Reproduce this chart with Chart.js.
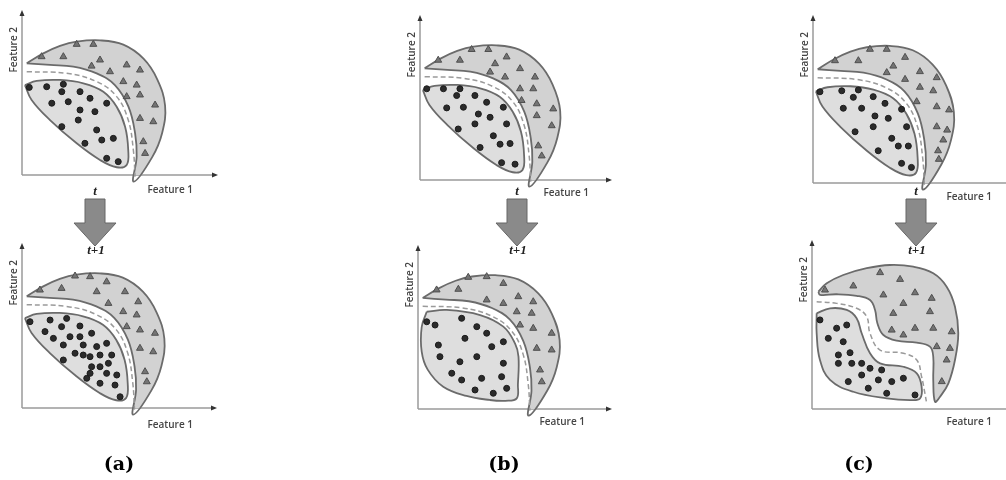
<!DOCTYPE html>
<html>
<head>
<meta charset="utf-8">
<script src="https://cdn.jsdelivr.net/npm/chart.js@4.4.1/dist/chart.umd.min.js"></script>
<style>
  body { margin: 0; width: 1006px; height: 480px; background: #fff; position: relative; overflow: hidden; }
  canvas { position: absolute; }
  .lbl { position: absolute; transform: translate(-50%, -50%); white-space: nowrap; }
  .t { font: italic bold 13px "Liberation Serif", serif; color: #222; }
  .cap { font: bold 19px "DejaVu Serif", serif; color: #000; }
  svg { position: absolute; left: 0; top: 0; }
</style>
</head>
<body>
<canvas id="aTop"></canvas>
<canvas id="aBottom"></canvas>
<canvas id="bTop"></canvas>
<canvas id="bBottom"></canvas>
<canvas id="cTop"></canvas>
<canvas id="cBottom"></canvas>
<svg width="1006" height="480" id="arrows"></svg>
<script>
// axis titles and captions
const xTitle = 'Feature 1';
const yTitle = 'Feature 2';
const stepBefore = 't';
const stepAfter = 't+1';
const captions = ['(a)', '(b)', '(c)'];

// class regions, in axis units (0..100 on both axes)
const crescent = [[2.4,67.7],[10.9,73.7],[19.4,78.2],[27.9,80.8],[39.8,81.6],[51.7,79],[62,70.5],[69,58],[73,42],[71.5,25.5],[66.5,11],[57,-4],
  [58.5,11.1],[57.7,25.3],[54.3,41.4],[47.4,54.5],[38.1,61.6],[26.2,65.7],[14.3,66.7],[2.4,67.7]];
const lens = [[1.5,54.5],[7.5,57],[19.4,57.6],[31.3,55.6],[41.5,50.5],[48.3,41.4],[52.6,29.3],[54.2,15.2],[53.4,6.1],[48.3,4.7],
  [39.8,9.1],[27.9,19.2],[14.3,33.3],[4.9,45.5],[1.5,54.5]];
const boundary = [[2.4,62.6],[22.8,61.6],[38.1,56.6],[48.3,47.5],[54.2,33.3],[56.8,15.2],[57.7,-1]];
const lensWide = [[4.5,59.3],[14.8,60.4],[32,57.3],[44,50.2],[50,40],[51.8,31.9],[51.5,15],[50.9,6.5],[45,5],[37,5.5],[25,8],
  [13,13.6],[5,24],[1.9,35],[1.9,50],[4.5,59.3]];
const sUpper = [[3.3,69.4],[7.6,74.4],[16.1,79.3],[28.2,83.3],[40.2,85.2],[52.2,84.2],[62.5,80.3],[69.4,72.4],[73.7,60.5],[75.4,44.8],
  [73.7,29],[70.3,15.2],[66,7.3],[63.4,4.3],[62.5,17.2],[62.5,30.9],[60.8,36.9],[54,39.3],[43.7,40.4],[36.8,43.8],[33.7,50.7],
  [32.5,58.6],[29.9,64.5],[23,67],[12.7,67.9],[4.1,67.5],[3.3,69.4]];
const sLower = [[2.4,56.6],[9.3,59.6],[17.9,58.6],[23,53.7],[25.6,44.8],[29.9,33],[35.1,27],[47.1,25],[54,21.1],[56.5,13.2],
  [55.7,6.3],[50.5,5.3],[38.5,6.3],[21.3,10.2],[9.3,17.2],[4.1,29],[2.4,44.8],[2.4,56.6]];
const sBoundary = [[2.4,63.5],[12.7,62.5],[23,59.6],[28.2,54.6],[29.9,44.8],[35.1,34.9],[47.1,33],[54,29],[56.5,19.1],[58.2,9.3],[59.1,3.4]];

// samples: triangles (class 2) and dots (class 1)
const triA1 = [[27.9,79.2],[36.4,79.2],[10,71.7],[21.1,71.7],[39.8,69.7],[35.5,66],[53.4,66.7],[44.9,62.6],[60.2,63.6],[51.7,56.6],
  [58.5,54.5],[53.4,47.5],[60.2,48.5],[67.9,42.4],[60.2,34.3],[67,32.3],[61.9,20.2],[62.8,13.1]];
const dotA1 = [[3.7,53.1],[12.6,53.5],[21.1,55],[20.3,50.5],[29.6,50.5],[34.7,46.5],[23.6,44.4],[15.2,43.5],[29.6,39.4],[37.2,38.4],
  [43.2,43.5],[28.7,33.3],[38.1,27.3],[20.3,29.3],[40.7,21.2],[46.6,22.2],[32.1,19.2],[43.2,10.1],[49.1,8.1]];
const triA2 = [[27.2,80],[34.9,79.6],[9.2,71.5],[20.3,72.5],[43.4,76.5],[38.3,70.5],[52.8,70.5],[44.3,63.4],[59.6,64.4],[51.9,58.4],
  [58.8,56.4],[53.7,49.3],[60.5,47.3],[68.2,45.3],[60.5,36.2],[67.3,34.1],[63.1,22],[64,15.9]];
const dotA2 = [[4.1,52.3],[14.4,53.3],[22.9,54.3],[29.7,49.7],[20.3,49.3],[11.8,46.3],[24.6,43.2],[29.7,43.2],[35.7,45.3],[16.1,42.2],
  [21.2,38.2],[31.4,38.2],[38.3,37.2],[43.4,39.2],[27.2,33.2],[31.4,32.1],[34.9,31.1],[40,32.1],[46,32.1],[21.2,29.1],
  [35.7,25],[40,25],[44.3,27.1],[34.9,21],[43.4,21],[48.6,20],[33.2,18],[40,15],[47.7,13.9],[50.3,6.8]];
const triB1 = [[26.9,79.1],[35.6,79.1],[9.5,72.6],[20.8,72.6],[45.1,74.6],[39.1,70.5],[52.1,67.5],[36.5,65.4],[44.3,62.4],[59.9,62.4],
  [52.1,55.3],[59,55.3],[52.9,48.2],[60.8,46.2],[69.4,43.1],[60.8,39],[68.6,32.9],[61.6,20.7],[63.4,14.6]];
const dotB1 = [[3.5,55.3],[12.2,55.3],[20.8,55.3],[19.1,51.2],[28.6,51.2],[34.7,47.1],[13.9,43.7],[22.6,44.1],[43.4,44.1],[30.4,40],
  [36.5,38],[28.6,34],[45.1,34],[19.9,30.9],[38.2,26.8],[41.7,21.7],[46.9,22.1],[31.3,19.7],[42.5,10.5],[49.5,9.6]];
const triB2 = [[9.6,72.6],[20.8,73],[25.9,80.3],[35.4,80.7],[44,76.6],[35.4,66.5],[44,64.4],[51.7,68.5],[59.4,65.4],[50.9,59.3],
  [58.6,58.4],[52.6,51.2],[59.4,49.2],[68.9,46.2],[61.2,37],[68.9,36],[62.9,23.8],[63.8,16.6]];
const dotB2 = [[4.5,53.2],[8.8,51.2],[22.5,55.3],[30.3,50.2],[35.4,46.2],[10.5,39],[24.2,43.1],[38,38],[44,41],[11.3,31.9],
  [30.3,31.9],[21.6,28.8],[44,27.9],[17.4,21.8],[22.5,17.7],[32.8,18.7],[43.1,19.7],[29.4,11.6],[38.8,9.6],[45.7,12.6]];
const triC1 = [[29.5,79.6],[38.2,79.6],[11.4,72.8],[23.5,72.8],[47.7,74.8],[41.6,69.6],[55.4,66.3],[38.2,65.7],[47.7,61.7],[64.1,62.7],
  [55.4,57],[62.3,54.9],[53.7,48.4],[64.1,45.4],[70.5,43.5],[64.1,33.5],[69.5,31.5],[67.5,25.6],[64.8,19.2],[65.2,14.1]];
const dotC1 = [[3.6,54.3],[14.9,54.9],[23.5,55.4],[20.9,51],[31.2,51.4],[37.3,47.4],[15.7,44.5],[25.2,44.5],[45.9,43.9],[32.1,39.9],
  [39,38.5],[31.2,33.5],[48.5,33.5],[21.8,30.5],[40.8,26.6],[44.2,22],[49.4,22],[33.8,19.2],[45.9,11.7],[51,9.3]];
const triC2 = [[6.7,70.4],[21.3,72.8],[35.1,80.7],[45.4,76.7],[36.8,67.5],[53.1,68.8],[61.7,65.5],[47.1,62.5],[41.9,56.6],[60.8,57.6],
  [41.1,46.7],[47.1,43.8],[53.1,47.8],[62.5,47.8],[72,45.7],[64.3,36.9],[71.1,35.9],[69.4,29],[66.9,16.2]];
const dotC2 = [[4.1,52.7],[12.7,47.8],[17.9,49.7],[8.4,41.8],[16.1,39.8],[19.6,33.3],[13.6,32],[13.6,27],[20.5,27],[25.6,27],
  [29.9,24.1],[35.9,23.1],[25.6,20.1],[34.2,17.2],[41.1,16.2],[47.1,18.2],[18.7,16.2],[29,12.3],[38.5,9.3],[53.1,8.3]];

const padL = 24, padT = 6, padR = 8, padB = 26;

const panels = [
  { id: 'aTop',    ox: 22,  oy: 175, tx: 218,  ty: 10,  xArrow: true,  labEnd: 171, labDy: 15, upper: crescent, lower: lens,     bound: boundary,  tri: triA1, dot: dotA1 },
  { id: 'aBottom', ox: 22,  oy: 408, tx: 217,  ty: 243, xArrow: true,  labEnd: 171, labDy: 17, upper: crescent, lower: lens,     bound: boundary,  tri: triA2, dot: dotA2 },
  { id: 'bTop',    ox: 420, oy: 180, tx: 612,  ty: 15,  xArrow: true,  labEnd: 169, labDy: 13, upper: crescent, lower: lens,     bound: boundary,  tri: triB1, dot: dotB1 },
  { id: 'bBottom', ox: 418, oy: 409, tx: 612,  ty: 245, xArrow: true,  labEnd: 167, labDy: 13, upper: crescent, lower: lensWide, bound: boundary,  tri: triB2, dot: dotB2 },
  { id: 'cTop',    ox: 813, oy: 183, tx: 1006, ty: 15,  xArrow: false, labEnd: 179, labDy: 14, upper: crescent, lower: lens,     bound: boundary,  tri: triC1, dot: dotC1 },
  { id: 'cBottom', ox: 812, oy: 409, tx: 1006, ty: 240, xArrow: false, labEnd: 180, labDy: 13, upper: sUpper,   lower: sLower,   bound: sBoundary, tri: triC2, dot: dotC2 }
];

// axes with arrow heads plus the two feature titles
const featureAxes = {
  id: 'featureAxes',
  beforeDatasetsDraw(chart, args, opts) {
    const {ctx, chartArea: a} = chart;
    const x0 = a.left, y0 = a.bottom, x1 = a.right, y1 = a.top;
    ctx.save();
    ctx.strokeStyle = '#9a9a9a';
    ctx.lineWidth = 1.5;
    ctx.beginPath();
    ctx.moveTo(x0, y0); ctx.lineTo(opts.xArrow ? x1 - 4 : x1 + 10, y0);
    ctx.moveTo(x0, y0); ctx.lineTo(x0, y1 + 4);
    ctx.stroke();
    ctx.fillStyle = '#333';
    ctx.beginPath();
    ctx.moveTo(x0, y1); ctx.lineTo(x0 - 2.5, y1 + 6); ctx.lineTo(x0 + 2.5, y1 + 6);
    ctx.fill();
    if (opts.xArrow) {
      ctx.beginPath();
      ctx.moveTo(x1, y0); ctx.lineTo(x1 - 6, y0 - 2.5); ctx.lineTo(x1 - 6, y0 + 2.5);
      ctx.fill();
    }
    ctx.font = '600 10px "Open Sans"';
    ctx.fillStyle = '#444';
    ctx.textAlign = 'right';
    ctx.textBaseline = 'middle';
    ctx.fillText(xTitle, x0 + opts.labEnd, y0 + opts.labDy);
    ctx.translate(x0 - 8, y1 + 17);
    ctx.rotate(-Math.PI / 2);
    ctx.fillText(yTitle, 0, 0);
    ctx.restore();
  }
};

const toXY = pts => pts.map(p => ({x: p[0], y: p[1]}));

function region(pts, color, order) {
  return { data: toXY(pts), showLine: true, fill: 'shape', backgroundColor: color, borderColor: '#6b6b6b',
           borderWidth: 1.8, tension: 0.4, pointRadius: 0, clip: false, order: order };
}

panels.forEach(p => {
  const cv = document.getElementById(p.id);
  cv.width = p.tx - p.ox + padL + padR;
  cv.height = p.oy - p.ty + padT + padB;
  cv.style.left = (p.ox - padL) + 'px';
  cv.style.top = (p.ty - padT) + 'px';
  new Chart(cv, {
    type: 'scatter',
    data: {
      datasets: [
        { data: toXY(p.dot), pointStyle: 'circle', pointRadius: 3, backgroundColor: '#2b2b2b', borderColor: '#1c1c1c', borderWidth: 1, order: 1 },
        { data: toXY(p.tri), pointStyle: 'triangle', pointRadius: 4, backgroundColor: '#747474', borderColor: '#4f4f4f', borderWidth: 1, order: 2 },
        { data: toXY(p.bound), showLine: true, fill: false, borderColor: '#9a9a9a', borderWidth: 1.5, borderDash: [5, 3],
          tension: 0.4, pointRadius: 0, clip: false, order: 3 },
        region(p.lower, '#dedede', 4),
        region(p.upper, '#d2d2d2', 5)
      ]
    },
    options: {
      responsive: false,
      animation: false,
      events: [],
      layout: { padding: { left: padL, top: padT, right: padR, bottom: padB } },
      scales: {
        x: { type: 'linear', min: 0, max: 100, display: false },
        y: { type: 'linear', min: 0, max: 100, display: false }
      },
      plugins: {
        legend: { display: false },
        tooltip: { enabled: false },
        featureAxes: { xArrow: p.xArrow, labEnd: p.labEnd, labDy: p.labDy }
      }
    },
    plugins: [featureAxes]
  });
});

// step arrows between the two rows, and captions
const arrowCenters = [95, 517, 916];
const captionCenters = [119, 504, 859];
const svg = document.getElementById('arrows');
arrowCenters.forEach((cx, i) => {
  const pts = [[cx - 10, 199], [cx + 10, 199], [cx + 10, 223], [cx + 21, 223], [cx, 246], [cx - 21, 223], [cx - 10, 223]];
  const poly = document.createElementNS('http://www.w3.org/2000/svg', 'polygon');
  poly.setAttribute('points', pts.map(q => q.join(',')).join(' '));
  poly.setAttribute('fill', '#8a8a8a');
  poly.setAttribute('stroke', '#666');
  poly.setAttribute('stroke-width', '1');
  svg.appendChild(poly);
  addLabel(stepBefore, 't', cx, 191);
  addLabel(stepAfter, 't', cx + 1, 250);
  addLabel(captions[i], 'cap', captionCenters[i], 463);
});

function addLabel(text, cls, x, y) {
  const d = document.createElement('div');
  d.className = 'lbl ' + cls;
  d.textContent = text;
  d.style.left = x + 'px';
  d.style.top = y + 'px';
  document.body.appendChild(d);
}
</script>
</body>
</html>
